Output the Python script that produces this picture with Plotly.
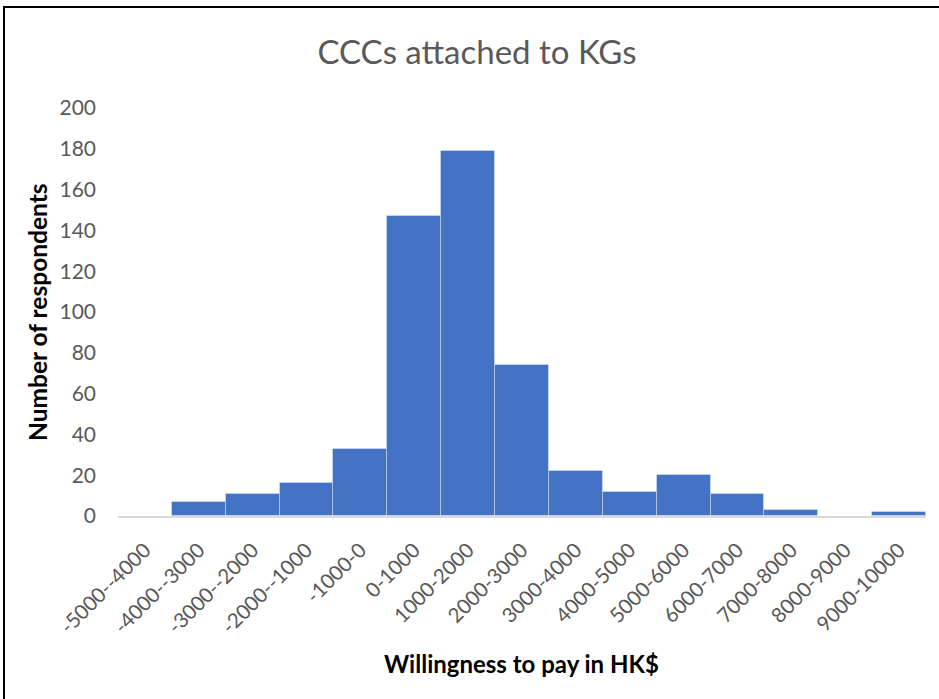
import plotly.graph_objects as go

# Willingness-to-pay bins (HK$) and respondent counts
bins = ["-5000--4000", "-4000--3000", "-3000--2000", "-2000--1000", "-1000-0",
        "0-1000", "1000-2000", "2000-3000", "3000-4000", "4000-5000",
        "5000-6000", "6000-7000", "7000-8000", "8000-9000", "9000-10000"]
counts = [0, 7, 11, 16, 33, 147, 179, 74, 22, 12, 20, 11, 3, 0, 2]
y_ticks = [0, 20, 40, 60, 80, 100, 120, 140, 160, 180, 200]

W, H = 939, 699
L, R, T, B = 118, 13, 108, 183  # plot area margins in px
pw, ph = W - L - R, H - T - B

def px_x(px):
    return (px - L) / pw

def px_y(py):
    return (H - B - py) / ph

FONT = "Lato, 'Open Sans', sans-serif"
GREY = "#595959"

fig = go.Figure(go.Bar(
    x=bins, y=counts,
    marker=dict(color="#4472C4", line=dict(color="rgba(255,255,255,0.35)", width=1)),
))

fig.update_layout(
    width=W, height=H,
    margin=dict(l=L, r=R, t=T, b=B),
    paper_bgcolor="white", plot_bgcolor="white",
    bargap=0, showlegend=False,
    font=dict(family=FONT, color=GREY, size=16),
    title=dict(text="CCCs attached to KGs", x=477 / W, y=1 - 52 / H,
               xanchor="center", yanchor="middle", xref="container",
               yref="container", font=dict(family=FONT, size=33, color=GREY)),
    xaxis=dict(type="category", tickangle=-45, showgrid=False, ticks="",
               showline=True, linecolor="#D9D9D9", linewidth=2,
               tickfont=dict(size=20.5, color=GREY), ticklabelstandoff=12),
    yaxis=dict(range=[0, 200], tickvals=y_ticks, showgrid=False, zeroline=False,
               ticks="", showline=False, tickfont=dict(size=21, color=GREY),
               ticklabelstandoff=21),
    annotations=[
        dict(text="<b>Number of respondents</b>", textangle=-90,
             x=px_x(37), y=px_y(312), xref="paper", yref="paper",
             xanchor="center", yanchor="middle", showarrow=False,
             font=dict(family=FONT, size=24.5, color="black")),
        dict(text="<b>Willingness to pay in HK$</b>",
             x=px_x(521), y=px_y(663), xref="paper", yref="paper",
             xanchor="center", yanchor="middle", showarrow=False,
             font=dict(family=FONT, size=24, color="black")),
    ],
    shapes=[
        dict(type="rect", xref="paper", yref="paper",
             x0=px_x(4), x1=px_x(950), y0=px_y(710), y1=px_y(7),
             line=dict(color="black", width=2), fillcolor="rgba(0,0,0,0)",
             layer="above"),
    ],
)

fig.write_html("out.html")
